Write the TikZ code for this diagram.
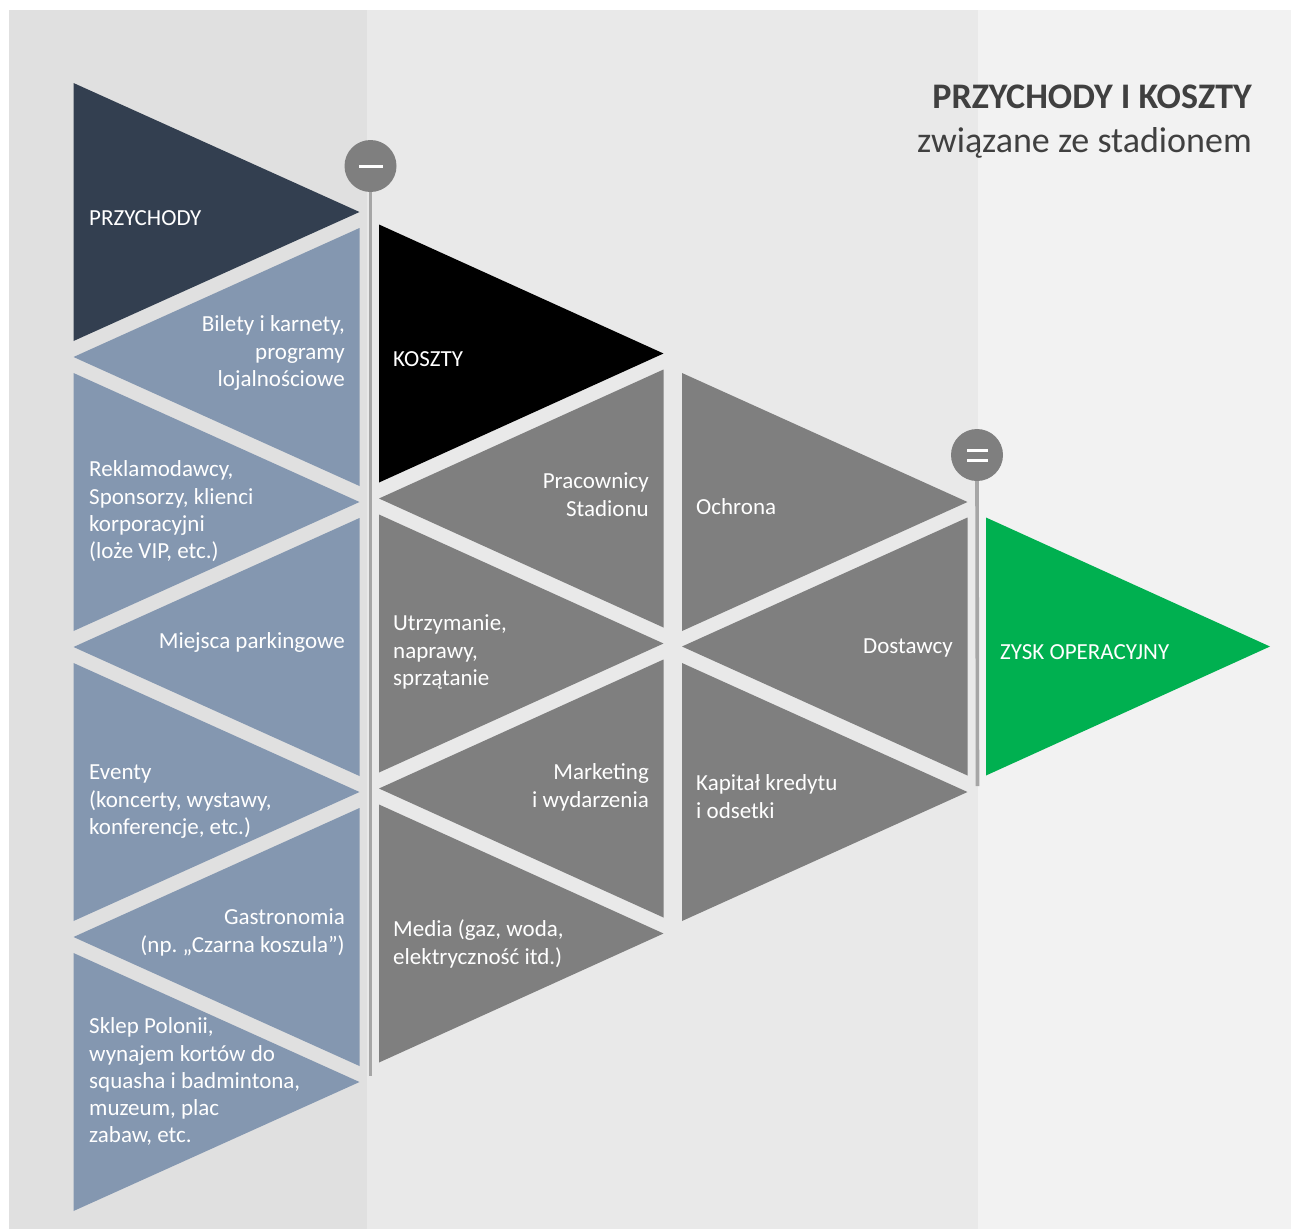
\documentclass[tikz,border=0pt]{standalone}
\usepackage{fontspec}
\setmainfont{Carlito}
\definecolor{bgL}{HTML}{E0E0E0}
\definecolor{bgM}{HTML}{E9E9E9}
\definecolor{bgR}{HTML}{F2F2F2}
\definecolor{navy}{HTML}{333F50}
\definecolor{slate}{HTML}{8497B0}
\definecolor{midgrey}{HTML}{7F7F7F}
\definecolor{okgreen}{HTML}{00B050}
\definecolor{linegrey}{HTML}{A6A6A6}
\definecolor{titlegrey}{HTML}{404040}
\tikzset{
  lbl/.style={text=white, inner sep=0pt, font=\fontsize{23}{27.3}\selectfont},
  lblL/.style={lbl, align=left, anchor=base west},
  lblR/.style={lbl, align=right, anchor=base east},
  opcircle/.style={circle, fill=midgrey, minimum size=52pt, inner sep=0pt},
  opline/.style={draw=linegrey, line width=3.6pt},
}
% right-pointing triangle: fill, left x, top y, right x
\newcommand\tright[4]{\fill[#1] (#2,#3) -- (#2,#3+258) -- (#4,#3+129) -- cycle;}
% left-pointing triangle: fill, left x (apex), top y, right x
\newcommand\tleft[4]{\fill[#1] (#4,#3) -- (#4,#3+258) -- (#2,#3+129) -- cycle;}
% (base anchor of a multi-line node = baseline of its last line)
\begin{document}
\begin{tikzpicture}[x=1pt,y=-1pt]
\useasboundingbox (0,0) rectangle (1294,1229);
\fill[white] (0,0) rectangle (1294,1229);
\fill[bgL] (9,10) rectangle (367,1229);
\fill[bgM] (367,10) rectangle (978,1229);
\fill[bgR] (978,10) rectangle (1291,1229);

% column 1
\tright{navy}{73.5}{83}{359.5}
\tright{slate}{73.5}{373}{359.5}
\tright{slate}{73.5}{663}{359.5}
\tright{slate}{73.5}{953}{359.5}
\tleft{slate}{73.5}{228}{359.5}
\tleft{slate}{73.5}{518}{359.5}
\tleft{slate}{73.5}{808}{359.5}
% column 2
\tright{black}{379}{224.5}{663.5}
\tright{midgrey}{379}{514.5}{663.5}
\tright{midgrey}{379}{804.5}{663.5}
\tleft{midgrey}{379}{369.5}{663.5}
\tleft{midgrey}{379}{659.5}{663.5}
% column 3
\tright{midgrey}{682}{373}{967.5}
\tright{midgrey}{682}{663}{967.5}
\tleft{midgrey}{682}{517.5}{967.5}
% column 4
\tright{okgreen}{986}{517.5}{1270}

% operators
\node[opcircle] (minus) at (370.5,166) {};
\fill[white] (358.5,164.5) rectangle (382.5,168);
\coordinate (minusend) at (370.5,1076);
\draw[opline] (minus.south) -- (minusend);

\node[opcircle] (equal) at (977,455) {};
\fill[white] (966.5,449) rectangle (987.5,452.3);
\fill[white] (966.5,459) rectangle (987.5,462.3);
\coordinate (equalend) at (977.5,786);
\draw[opline] (equal.south) -- (equalend);

% title
\node[inner sep=0pt, anchor=base east, text=titlegrey, font=\fontsize{36}{40}\selectfont\bfseries] (title) at (1252,108) {PRZYCHODY I KOSZTY};
\node[inner sep=0pt, anchor=base east, text=titlegrey, font=\fontsize{36}{40}\selectfont] (subtitle) at (1252,152) {związane ze stadionem};

% labels column 1
\node[lblL] (przychody) at (89,225.7) {PRZYCHODY};
\node[lblR] (bilety) at (345,386.3) {Bilety i karnety,\\programy\\lojalnościowe};
\node[lblL] (reklam) at (89,558.6) {Reklamodawcy,\\Sponsorzy, klienci\\korporacyjni\\(loże VIP, etc.)};
\node[lblR] (parking) at (345,648.7) {Miejsca parkingowe};
\node[lblL] (eventy) at (89,834.3) {Eventy\\(koncerty, wystawy,\\konferencje, etc.)};
\node[lblR] (gastro) at (345,952) {Gastronomia\\(np.~„Czarna koszula”)};
\node[lblL] (sklep) at (89,1142.9) {Sklep Polonii,\\wynajem kortów do\\squasha i badmintona,\\muzeum, plac\\zabaw, etc.};
% labels column 2
\node[lblL] (koszty) at (393,366) {KOSZTY};
\node[lblR] (pracownicy) at (649,516) {Pracownicy\\Stadionu};
\node[lblL] (utrzymanie) at (393,685.3) {Utrzymanie,\\naprawy,\\sprzątanie};
\node[lblR] (marketing) at (649,807) {Marketing\\i wydarzenia};
\node[lblL] (media) at (393,964) {Media (gaz, woda,\\elektryczność itd.)};
% labels column 3
\node[lblL] (ochrona) at (696,514.7) {Ochrona};
\node[lblR] (dostawcy) at (953,653.7) {Dostawcy};
\node[lblL] (kapital) at (696,818) {Kapitał kredytu\\i odsetki};
% column 4
\node[lblL] (zysk) at (1000,659.3) {ZYSK OPERACYJNY};
\end{tikzpicture}
\end{document}
